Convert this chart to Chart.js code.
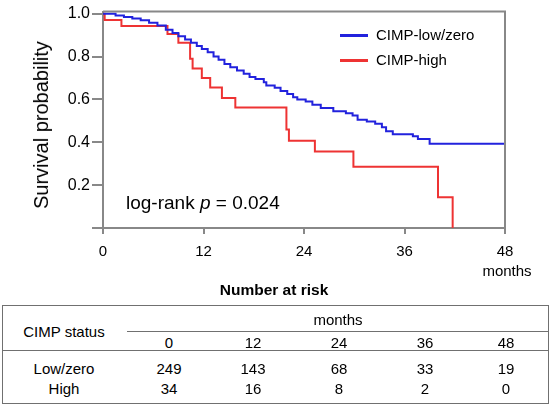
<!DOCTYPE html>
<html>
<head>
<meta charset="utf-8">
<script src="https://cdn.jsdelivr.net/npm/chart.js@4.4.1/dist/chart.umd.min.js"></script>
<style>
  html, body { margin: 0; padding: 0; background: #fff; }
  body { width: 550px; height: 405px; position: relative; overflow: hidden;
         font-family: "Liberation Sans", Arial, sans-serif; color: #000; }
  #wrap { position: absolute; left: 0; top: 0; width: 550px; height: 280px; }
  .abs { position: absolute; white-space: nowrap; line-height: 1; }
  .leg-line { position: absolute; width: 28px; height: 3px; }
  .hline { position: absolute; height: 0; border-top: 1.5px solid #707070; }
  .vline { position: absolute; width: 0; border-left: 1.5px solid #707070; }
  .cell { position: absolute; transform: translate(-50%, -50%); font-size: 15px; white-space: nowrap; line-height: 1; }
</style>
</head>
<body>
<div id="wrap"><canvas id="c" width="550" height="280"></canvas></div>

<div class="abs" id="ytitle" style="left:41px; top:125px; font-size:20px; transform: translate(-50%,-50%) rotate(-90deg);">Survival probability</div>
<div class="abs" style="left:126px; top:193px; font-size:19px;">log-rank <i>p</i> = 0.024</div>
<div class="leg-line" style="left:340px; top:34px; background:#2222dd;"></div>
<div class="abs" style="left:376px; top:27px; font-size:15px;">CIMP-low/zero</div>
<div class="leg-line" style="left:340px; top:59px; background:#ee3333;"></div>
<div class="abs" style="left:376px; top:52px; font-size:15px;">CIMP-high</div>
<div class="abs" style="left:507px; top:270px; font-size:15px; transform: translate(-50%,-50%);">months</div>

<div class="abs" style="left:274px; top:290px; font-size:15.5px; font-weight:bold; transform: translate(-50%,-50%);">Number at risk</div>
<div id="table"></div>

<script>
// ---- Data ----
const lowTimes = [0, 1.5, 2.5, 3.5, 4.5, 5.5, 6.5, 7.5, 8.3, 9.0, 9.8, 10.5, 11.2, 11.8, 12.5, 13.2, 13.8, 14.5, 15.2, 16.0, 16.8, 17.5, 18.2, 19.2, 19.5, 20.5, 21.2, 22.0, 22.7, 23.2, 24.2, 25.0, 26.0, 27.5, 29.0, 29.8, 30.4, 31.5, 32.5, 33.3, 33.8, 34.6, 37.0, 37.6, 39.0, 48];
const lowSurv  = [1.0, 0.992, 0.985, 0.978, 0.97, 0.958, 0.945, 0.925, 0.91, 0.895, 0.88, 0.865, 0.85, 0.835, 0.82, 0.80, 0.785, 0.765, 0.75, 0.735, 0.72, 0.705, 0.695, 0.68, 0.665, 0.655, 0.64, 0.625, 0.61, 0.60, 0.59, 0.575, 0.56, 0.545, 0.535, 0.525, 0.505, 0.497, 0.487, 0.47, 0.452, 0.438, 0.428, 0.415, 0.393, 0.393];
const highTimes = [0, 0.2, 2.2, 7.7, 9.0, 10.4, 10.7, 11.8, 12.8, 14.2, 15.8, 21.9, 22.2, 25.3, 29.9, 40.0, 41.75];
const highSurv  = [1.0, 0.971, 0.943, 0.906, 0.865, 0.79, 0.745, 0.70, 0.656, 0.607, 0.5625, 0.46, 0.407, 0.357, 0.286, 0.143, 0.0];
const seriesNames = ["CIMP-low/zero", "CIMP-high"];
const xTicks = [0, 12, 24, 36, 48];
const yTicks = [0.2, 0.4, 0.6, 0.8, 1.0];

// Number at risk table
const riskGroups = ["Low/zero", "High"];
const riskLow  = [249, 143, 68, 33, 19];
const riskHigh = [34, 16, 8, 2, 0];

const toPts = (t, s) => t.map((v, i) => ({ x: v, y: s[i] }));

const frame = {
  id: 'frame',
  afterDraw(chart) {
    const { ctx, chartArea: a } = chart;
    ctx.save();
    ctx.strokeStyle = '#888';
    ctx.lineWidth = 2;
    ctx.beginPath();
    ctx.moveTo(a.left, a.top);
    ctx.lineTo(a.right, a.top);
    ctx.lineTo(a.right, a.bottom);
    ctx.stroke();
    ctx.restore();
  }
};

new Chart(document.getElementById('c'), {
  type: 'line',
  data: {
    datasets: [
      { label: seriesNames[0], data: toPts(lowTimes, lowSurv), borderColor: '#2222dd', borderWidth: 2, stepped: true, pointRadius: 0, fill: false },
      { label: seriesNames[1], data: toPts(highTimes, highSurv), borderColor: '#ee3333', borderWidth: 2, stepped: true, pointRadius: 0, fill: false }
    ]
  },
  options: {
    responsive: false,
    animation: false,
    devicePixelRatio: 1,
    layout: { padding: { left: 0, right: 45, top: 2, bottom: 0 } },
    plugins: { legend: { display: false }, tooltip: { enabled: false } },
    scales: {
      x: {
        type: 'linear', min: 0, max: 48,
        afterBuildTicks: s => { s.ticks = xTicks.map(v => ({ value: v })); },
        afterFit: s => { s.height = 52; },
        ticks: { color: '#000', font: { family: '"Liberation Sans", Arial, sans-serif', size: 15 }, padding: 9, maxRotation: 0 },
        grid: { drawOnChartArea: false, drawTicks: true, tickLength: 6, color: '#888', lineWidth: 2 },
        border: { display: true, color: '#888', width: 2 }
      },
      y: {
        type: 'linear', min: 0, max: 1.01,
        afterBuildTicks: s => { s.ticks = [0].concat(yTicks).map(v => ({ value: v })); },
        afterFit: s => { s.width = 103; },
        ticks: { color: '#000', font: { family: '"Liberation Sans", Arial, sans-serif', size: 16 }, padding: 2,
                 callback: v => v === 0 ? '' : v.toFixed(1) },
        grid: { drawOnChartArea: false, drawTicks: true, tickLength: 11, color: '#888', lineWidth: 2 },
        border: { display: true, color: '#888', width: 2 }
      }
    }
  },
  plugins: [frame]
});

// ---- Build the number-at-risk table ----
(function () {
  const t = document.getElementById('table');
  const add = (html) => t.insertAdjacentHTML('beforeend', html);
  const L = 2, R = 549, TOP = 305, BOT = 403;
  add(`<div class="hline" style="left:${L}px; width:${R-L}px; top:${TOP}px;"></div>`);
  add(`<div class="hline" style="left:127px; width:${R-127}px; top:331px;"></div>`);
  add(`<div class="hline" style="left:${L}px; width:${R-L}px; top:350px;"></div>`);
  add(`<div class="hline" style="left:${L}px; width:${R-L}px; top:${BOT}px;"></div>`);
  add(`<div class="vline" style="left:${L}px; top:${TOP}px; height:${BOT-TOP}px;"></div>`);
  add(`<div class="vline" style="left:${R-1}px; top:${TOP}px; height:${BOT-TOP}px;"></div>`);
  const colX = [169, 253, 339, 425, 506];
  add(`<div class="cell" style="left:64px; top:331px;">CIMP status</div>`);
  add(`<div class="cell" style="left:338px; top:319px;">months</div>`);
  xTicks.forEach((v, i) => add(`<div class="cell" style="left:${colX[i]}px; top:342px;">${v}</div>`));
  add(`<div class="cell" style="left:64px; top:368px;">${riskGroups[0]}</div>`);
  riskLow.forEach((v, i) => add(`<div class="cell" style="left:${colX[i]}px; top:368px;">${v}</div>`));
  add(`<div class="cell" style="left:64px; top:388px;">${riskGroups[1]}</div>`);
  riskHigh.forEach((v, i) => add(`<div class="cell" style="left:${colX[i]}px; top:388px;">${v}</div>`));
})();
</script>
</body>
</html>
